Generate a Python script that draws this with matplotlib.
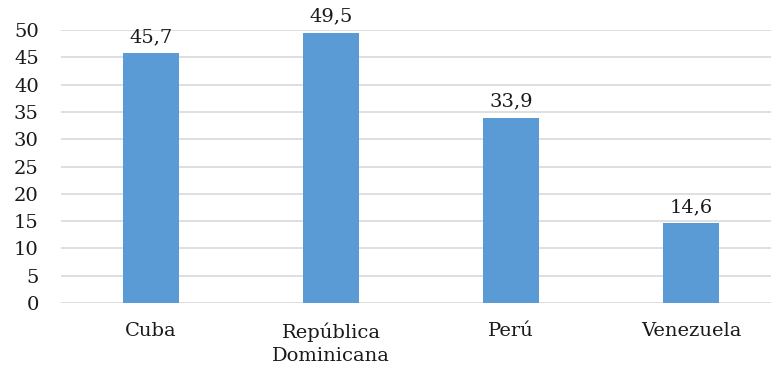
import matplotlib.pyplot as plt
import numpy as np

countries = ['Cuba', 'República\nDominicana', 'Perú', 'Venezuela']
values = [45.7, 49.5, 33.9, 14.6]
yticks = [0, 5, 10, 15, 20, 25, 30, 35, 40, 45, 50]

plt.rcParams['font.family'] = ['DejaVu Serif']

fig = plt.figure(figsize=(7.71, 3.69), dpi=100)
# plot area: 180 px per category, running off the right edge
ax = fig.add_axes([61 / 771, 1 - 303 / 369, 710 / 771, 273 / 369])

x = np.arange(len(countries))
bars = ax.bar(x, values, width=0.31, color='#5B9BD5', zorder=3)

for rect, v in zip(bars, values):
    ax.text(rect.get_x() + rect.get_width() / 2, v + 1.3,
            f'{v:.1f}'.replace('.', ','), ha='center', va='bottom',
            fontsize=14, color='#1a1a1a', clip_on=False, zorder=4)

ax.set_xlim(-0.5, 710 / 180 - 0.5)
ax.set_ylim(0, 50)
ax.set_yticks(yticks)
ax.set_xticks(x)
ax.set_xticklabels(countries, fontsize=14, color='#1a1a1a', linespacing=1.35,
                   va='top')
ax.tick_params(axis='y', labelsize=14, labelcolor='#1a1a1a', length=0, pad=16)
ax.tick_params(axis='x', length=0, pad=14)
ax.grid(axis='y', color='#d9d9d9', linewidth=1.2, zorder=0)
for s in ax.spines.values():
    s.set_visible(False)

fig.savefig('out.png', dpi=100)
